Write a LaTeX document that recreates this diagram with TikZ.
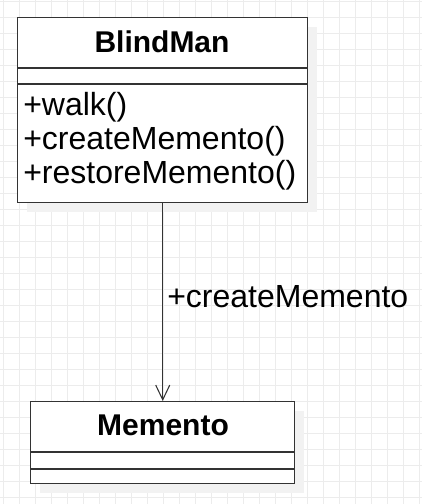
\documentclass[tikz,border=0pt]{standalone}
\usepackage{fontspec}
\setmainfont{Liberation Sans}
\usetikzlibrary{arrows.meta}
\definecolor{boxgray}{RGB}{51,51,51}
\definecolor{gridgray}{RGB}{236,236,236}
\definecolor{shadowgray}{RGB}{242,242,242}

\begin{document}
\begin{tikzpicture}[x=0.75pt,y=0.75pt,yscale=-1,xscale=1,
  umlbox/.style={draw=boxgray,line width=1.1pt,fill=white,inner sep=0pt,anchor=north west},
  umlsep/.style={draw=boxgray,line width=1.1pt},
  gridline/.style={draw=gridgray,line width=0.75pt},
  titletext/.style={font=\fontsize{22.5}{26}\selectfont\bfseries,inner sep=0pt,anchor=base},
  methodtext/.style={font=\fontsize{24}{28}\selectfont,inner sep=0pt,anchor=base west},
  assoc/.style={draw=boxgray,line width=0.8pt,-{Straight Barb[length=11pt,width=10.5pt,line width=0.8pt]}}]
\useasboundingbox (0,0) rectangle (422,504);
\fill[white] (0,0) rectangle (422,504);

%Grid
\foreach \gx in {0,...,26} \draw[gridline] (3.3+16*\gx,0) -- ++(0,504);
\foreach \gy in {0,...,31} \draw[gridline] (0,1.5+16*\gy) -- ++(422,0);

%Shadows
\fill[shadowgray] (27,27) rectangle (317,212);
\fill[shadowgray] (40,411) rectangle (304,493);

%Shape: Class BlindMan
\node[umlbox,minimum width=217.5pt,minimum height=138.75pt] (blindman) at (17,17) {};
\draw[umlsep] (17,68) -- (307,68);
\draw[umlsep] (17,84) -- (307,84);

%Shape: Class Memento
\node[umlbox,minimum width=198pt,minimum height=61.5pt] (memento) at (30,401) {};
\draw[umlsep] (30,452) -- (294,452);
\draw[umlsep] (30,469) -- (294,469);

%Straight Lines
\draw[assoc] (blindman.south) -- (memento.north);

% Text Node
\node[titletext] (blindmanname) at (162,52) {BlindMan};
% Text Node
\node[methodtext] (walk) at (23,115) {+walk()};
\node[methodtext] (create) at (23,149) {+createMemento()};
\node[methodtext] (restore) at (23,183) {+restoreMemento()};
% Text Node
\node[titletext] (mementoname) at (163,435) {Memento};
% Text Node
\node[methodtext] (assoclabel) at (167,307) {+createMemento};

\end{tikzpicture}
\end{document}
